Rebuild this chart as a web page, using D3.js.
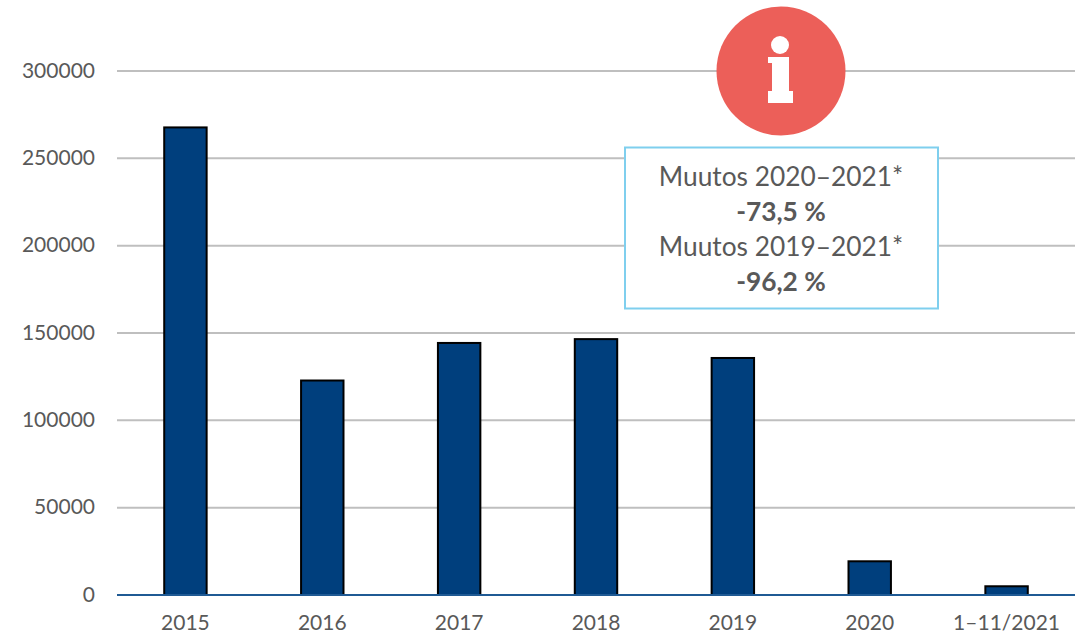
<!DOCTYPE html>
<html>
<head>
<meta charset="utf-8">
<script src="https://cdn.jsdelivr.net/npm/d3@7"></script>
<style>
  html, body { margin: 0; padding: 0; background: #fff; }
  svg { display: block; }
  text { font-family: Lato, "Open Sans", sans-serif; fill: #595959; }
</style>
</head>
<body>
<svg id="chart" width="1086" height="636"></svg>
<script>
const categories = ["2015", "2016", "2017", "2018", "2019", "2020", "1–11/2021"];
const values     = [267700, 122800, 144300, 146500, 135700, 19300, 5000];
const yTicks     = [0, 50000, 100000, 150000, 200000, 250000, 300000];
const noteLines  = [
  { text: "Muutos 2020–2021*", bold: false },
  { text: "-73,5 %", bold: true },
  { text: "Muutos 2019–2021*", bold: false },
  { text: "-96,2 %", bold: true }
];

const svg = d3.select("#chart");

const x = d3.scaleBand().domain(categories).range([117, 1075]).paddingInner(0.69).paddingOuter(0.345);
const y = d3.scaleLinear().domain([0, 300000]).range([595, 71]);

// gridlines + y labels
const yAxis = svg.append("g")
  .attr("transform", "translate(117,0)")
  .call(d3.axisLeft(y).offset(0).tickValues(yTicks).tickSize(-958).tickPadding(22).tickFormat(d3.format("d")));
yAxis.select(".domain").remove();
yAxis.selectAll("line").attr("stroke", "#bfbfbf").attr("stroke-width", 2);
yAxis.selectAll("text").style("font-size", "21px");

// bars
svg.append("g").selectAll("rect")
  .data(categories)
  .enter().append("rect")
    .attr("x", d => x(d))
    .attr("width", x.bandwidth())
    .attr("y", (d, i) => y(values[i]))
    .attr("height", (d, i) => y(0) - y(values[i]))
    .attr("fill", "#003f7d")
    .attr("stroke", "#000")
    .attr("stroke-width", 2);

// x axis
const xAxis = svg.append("g")
  .attr("transform", "translate(0,595)")
  .call(d3.axisBottom(x).offset(0).tickSize(0).tickPadding(20));
xAxis.select(".domain").attr("stroke", "#1f5a94").attr("stroke-width", 2);
xAxis.selectAll("text").style("font-size", "21px");

// info badge
const badge = svg.append("g");
badge.append("circle").attr("cx", 781).attr("cy", 71).attr("r", 64.5).attr("fill", "#ec5f59");
badge.append("circle").attr("cx", 780).attr("cy", 45).attr("r", 9).attr("fill", "#fff");
badge.append("path")
  .attr("d", "M768,57H789V91H793V103H768V91H772V63H768Z")
  .attr("fill", "#fff");

// note box
svg.append("rect")
  .attr("x", 625).attr("y", 147.5).attr("width", 313).attr("height", 161)
  .attr("fill", "#fff").attr("stroke", "#7fcfee").attr("stroke-width", 2);
svg.append("g").selectAll("text")
  .data(noteLines)
  .enter().append("text")
    .attr("x", 781)
    .attr("y", (d, i) => 185.5 + i * 35)
    .attr("text-anchor", "middle")
    .style("font-size", "26.3px")
    .style("font-weight", d => d.bold ? 700 : 400)
    .text(d => d.text);
</script>
</body>
</html>
